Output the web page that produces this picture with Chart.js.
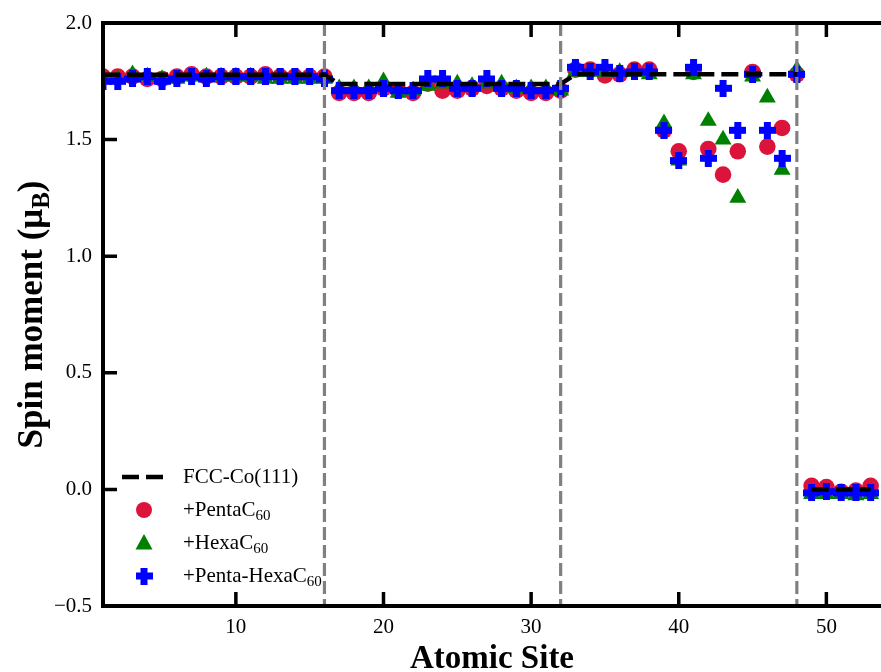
<!DOCTYPE html>
<html>
<head>
<meta charset="utf-8">
<script src="https://cdn.jsdelivr.net/npm/chart.js@4.4.1/dist/chart.umd.min.js"></script>
<style>
  body { margin: 0; background: #fff; }
  canvas { display: block; }
</style>
</head>
<body>
<canvas id="spinChart" width="881" height="672"></canvas>
<script>
const sites = [1, 2, 3, 4, 5, 6, 7, 8, 9, 10, 11, 12, 13, 14, 15, 16,
  17, 18, 19, 20, 21, 22, 23, 24, 25, 26, 27, 28, 29, 30, 31, 32,
  33, 34, 35, 36, 37, 38, 39, 40, 41, 42, 43, 44, 45, 46, 47, 48,
  49, 50, 51, 52, 53];

const fccCo = [1.778, 1.778, 1.778, 1.778, 1.778, 1.778, 1.778, 1.778, 1.778, 1.778, 1.778, 1.778, 1.778, 1.778, 1.778, 1.778,
  1.738, 1.738, 1.738, 1.738, 1.738, 1.738, 1.738, 1.738, 1.738, 1.738, 1.738, 1.738, 1.738, 1.738, 1.738, 1.738,
  1.78, 1.78, 1.78, 1.78, 1.78, 1.78, 1.78, 1.78, 1.78, 1.78, 1.78, 1.78, 1.78, 1.78, 1.78, 1.78,
  0.0, 0.0, 0.0, 0.0, 0.0];

const pentaC60 = [1.77, 1.77, 1.77, 1.76, 1.76, 1.77, 1.78, 1.77, 1.77, 1.77, 1.77, 1.78, 1.77, 1.77, 1.77, 1.77,
  1.70, 1.70, 1.70, 1.72, 1.71, 1.70, 1.74, 1.71, 1.71, 1.72, 1.73, 1.72, 1.71, 1.70, 1.70, 1.71,
  1.80, 1.80, 1.775, 1.78, 1.80, 1.80, 1.54, 1.45, 1.79, 1.46, 1.35, 1.45, 1.79, 1.47, 1.55, 1.78,
  0.015, 0.01, -0.01, -0.005, 0.015];

const hexaC60 = [1.76, 1.76, 1.78, 1.77, 1.76, 1.76, 1.77, 1.77, 1.77, 1.77, 1.77, 1.76, 1.76, 1.76, 1.76, 1.76,
  1.72, 1.72, 1.72, 1.75, 1.70, 1.71, 1.73, 1.74, 1.74, 1.73, 1.74, 1.74, 1.72, 1.72, 1.72, 1.71,
  1.79, 1.79, 1.79, 1.79, 1.79, 1.78, 1.57, 1.41, 1.78, 1.58, 1.50, 1.25, 1.77, 1.68, 1.37, 1.80,
  -0.02, -0.02, -0.02, -0.025, -0.02];

const pentaHexaC60 = [1.75, 1.75, 1.76, 1.77, 1.75, 1.76, 1.77, 1.76, 1.77, 1.77, 1.77, 1.77, 1.77, 1.77, 1.77, 1.76,
  1.71, 1.71, 1.71, 1.72, 1.71, 1.71, 1.76, 1.76, 1.72, 1.72, 1.76, 1.72, 1.72, 1.71, 1.71, 1.72,
  1.81, 1.79, 1.81, 1.785, 1.79, 1.79, 1.54, 1.41, 1.81, 1.42, 1.72, 1.54, 1.78, 1.54, 1.42, 1.78,
  -0.015, -0.01, -0.015, -0.015, -0.015];

const seriesLabels = ['FCC-Co(111)', '+PentaC_60', '+HexaC_60', '+Penta-HexaC_60'];
const xTicks = [10, 20, 30, 40, 50];
const yTicks = [-0.5, 0, 0.5, 1.0, 1.5, 2.0];
const boundarySites = [16, 32, 48];

const SERIF = "'Liberation Serif', 'Times New Roman', serif";

// thick filled plus, like matplotlib's 'P' marker
function makePlus(size, arm, color) {
  const c = document.createElement('canvas');
  c.width = size; c.height = size;
  const g = c.getContext('2d');
  g.fillStyle = color;
  const o = (size - arm) / 2;
  g.fillRect(o, 0, arm, size);
  g.fillRect(0, o, size, arm);
  return c;
}
const plusImg = makePlus(17, 7, '#0000ff');

const toPoints = vals => sites.map((s, i) => ({ x: s, y: vals[i] }));

// text with "_" marking a subscript part
function drawSubText(ctx, text, x, y, size, bold, subDrop) {
  const parts = text.split('_');
  const w = bold ? 'bold ' : '';
  ctx.font = w + size + 'px ' + SERIF;
  ctx.fillText(parts[0], x, y);
  let cx = x + ctx.measureText(parts[0]).width;
  if (parts[1]) {
    ctx.font = w + Math.round(size * 0.72) + 'px ' + SERIF;
    ctx.fillText(parts[1], cx, y + subDrop);
    cx += ctx.measureText(parts[1]).width;
  }
  return cx;
}

const framePlugin = {
  id: 'frame',
  afterDatasetsDraw(chart) {
    const { ctx, chartArea: a, scales: { x } } = chart;
    ctx.save();
    ctx.strokeStyle = '#808080';
    ctx.lineWidth = 3.2;
    ctx.setLineDash([13, 5]);
    boundarySites.forEach(s => {
      const px = x.getPixelForValue(s);
      ctx.beginPath();
      ctx.moveTo(px, a.top);
      ctx.lineTo(px, a.bottom);
      ctx.stroke();
    });
    ctx.restore();
  },
  afterDraw(chart) {
    const { ctx, chartArea: a, scales: { x, y } } = chart;
    ctx.save();
    ctx.strokeStyle = '#000';
    ctx.lineWidth = 4;
    ctx.beginPath();
    ctx.moveTo(chart.width + 5, a.top);
    ctx.lineTo(a.left, a.top);
    ctx.lineTo(a.left, a.bottom);
    ctx.lineTo(chart.width + 5, a.bottom);
    ctx.stroke();

    ctx.lineWidth = 3.5;
    ctx.beginPath();
    xTicks.forEach(v => {
      const px = x.getPixelForValue(v);
      ctx.moveTo(px, a.bottom); ctx.lineTo(px, a.bottom - 14);
      ctx.moveTo(px, a.top); ctx.lineTo(px, a.top + 14);
    });
    yTicks.forEach(v => {
      const py = y.getPixelForValue(v);
      ctx.moveTo(a.left, py); ctx.lineTo(a.left + 14, py);
    });
    ctx.stroke();

    // axis titles
    ctx.fillStyle = '#000';
    ctx.textBaseline = 'alphabetic';
    ctx.font = 'bold 33px ' + SERIF;
    ctx.textAlign = 'center';
    ctx.fillText('Atomic Site', (a.left + a.right) / 2, 668);

    ctx.save();
    ctx.translate(42, (a.top + a.bottom) / 2);
    ctx.rotate(-Math.PI / 2);
    ctx.textAlign = 'left';
    ctx.font = 'bold 35px ' + SERIF;
    const ytitle = 'Spin moment (μ_B';
    const w1 = ctx.measureText('Spin moment (μ').width;
    ctx.font = 'bold 25px ' + SERIF;
    const w2 = ctx.measureText('B').width;
    ctx.font = 'bold 35px ' + SERIF;
    const w3 = ctx.measureText(')').width;
    const start = -(w1 + w2 + w3) / 2;
    const end = drawSubText(ctx, ytitle, start, 0, 35, true, 7);
    ctx.font = 'bold 35px ' + SERIF;
    ctx.fillText(')', end, 0);
    ctx.restore();

    // legend
    const rowY = [477, 510, 543, 576];
    ctx.textAlign = 'left';
    ctx.textBaseline = 'middle';
    ctx.strokeStyle = '#000';
    ctx.lineWidth = 4.5;
    ctx.setLineDash([17, 7]);
    ctx.beginPath();
    ctx.moveTo(122, rowY[0]); ctx.lineTo(164, rowY[0]);
    ctx.stroke();
    ctx.setLineDash([]);

    ctx.fillStyle = '#dc143c';
    ctx.beginPath();
    ctx.arc(144, rowY[1], 8, 0, Math.PI * 2);
    ctx.fill();

    ctx.fillStyle = '#008000';
    ctx.beginPath();
    ctx.moveTo(144, rowY[2] - 9);
    ctx.lineTo(152.5, rowY[2] + 6.5);
    ctx.lineTo(135.5, rowY[2] + 6.5);
    ctx.closePath();
    ctx.fill();

    ctx.drawImage(plusImg, 144 - 8.5, rowY[3] - 8.5);

    ctx.fillStyle = '#000';
    seriesLabels.forEach((t, i) => drawSubText(ctx, t, 183, rowY[i], 21, false, 6));
    ctx.restore();
  }
};

const markerBase = { showLine: false, pointBorderWidth: 0, pointHoverRadius: 8, clip: 0 };

const chart = new Chart(document.getElementById('spinChart').getContext('2d'), {
  type: 'scatter',
  data: {
    datasets: [
      {
        label: 'FCC-Co(111)',
        data: toPoints(fccCo),
        showLine: true,
        borderColor: '#000',
        borderWidth: 4.5,
        borderDash: [17, 7],
        pointRadius: 0,
        clip: 0,
        order: 0,
        segment: {
          borderColor: c => c.p0DataIndex === 47 ? 'rgba(0,0,0,0)' : undefined
        }
      },
      Object.assign({
        label: '+PentaC60',
        data: toPoints(pentaC60),
        backgroundColor: '#dc143c',
        pointStyle: 'circle',
        pointRadius: 8.3,
        order: 3
      }, markerBase),
      Object.assign({
        label: '+HexaC60',
        data: toPoints(hexaC60),
        backgroundColor: '#008000',
        pointStyle: 'triangle',
        pointRadius: 9.8,
        order: 2
      }, markerBase),
      Object.assign({
        label: '+Penta-HexaC60',
        data: toPoints(pentaHexaC60),
        backgroundColor: '#0000ff',
        pointStyle: plusImg,
        pointRadius: 8.5,
        order: 1
      }, markerBase)
    ]
  },
  options: {
    responsive: false,
    animation: false,
    layout: { autoPadding: false, padding: { top: 23, right: 0, left: 0, bottom: 0 } },
    plugins: { legend: { display: false }, tooltip: { enabled: false } },
    scales: {
      x: {
        type: 'linear',
        min: 1,
        max: 53.7,
        grid: { display: false },
        border: { display: false },
        afterBuildTicks: s => { s.ticks = xTicks.map(v => ({ value: v })); },
        afterFit: s => { s.height = 66; s.paddingLeft = 0; s.paddingRight = 0; },
        ticks: {
          color: '#000',
          padding: 1,
          font: { family: SERIF, size: 21 },
          callback: v => String(v)
        }
      },
      y: {
        min: -0.5,
        max: 2.0,
        grid: { display: false },
        border: { display: false },
        afterBuildTicks: s => { s.ticks = yTicks.map(v => ({ value: v })); },
        afterFit: s => { s.width = 103; s.paddingTop = 0; s.paddingBottom = 0; },
        ticks: {
          color: '#000',
          padding: 3,
          font: { family: SERIF, size: 21 },
          callback: v => (v < 0 ? '\u2212' + Math.abs(v).toFixed(1) : v.toFixed(1))
        }
      }
    }
  },
  plugins: [framePlugin]
});
</script>
</body>
</html>
